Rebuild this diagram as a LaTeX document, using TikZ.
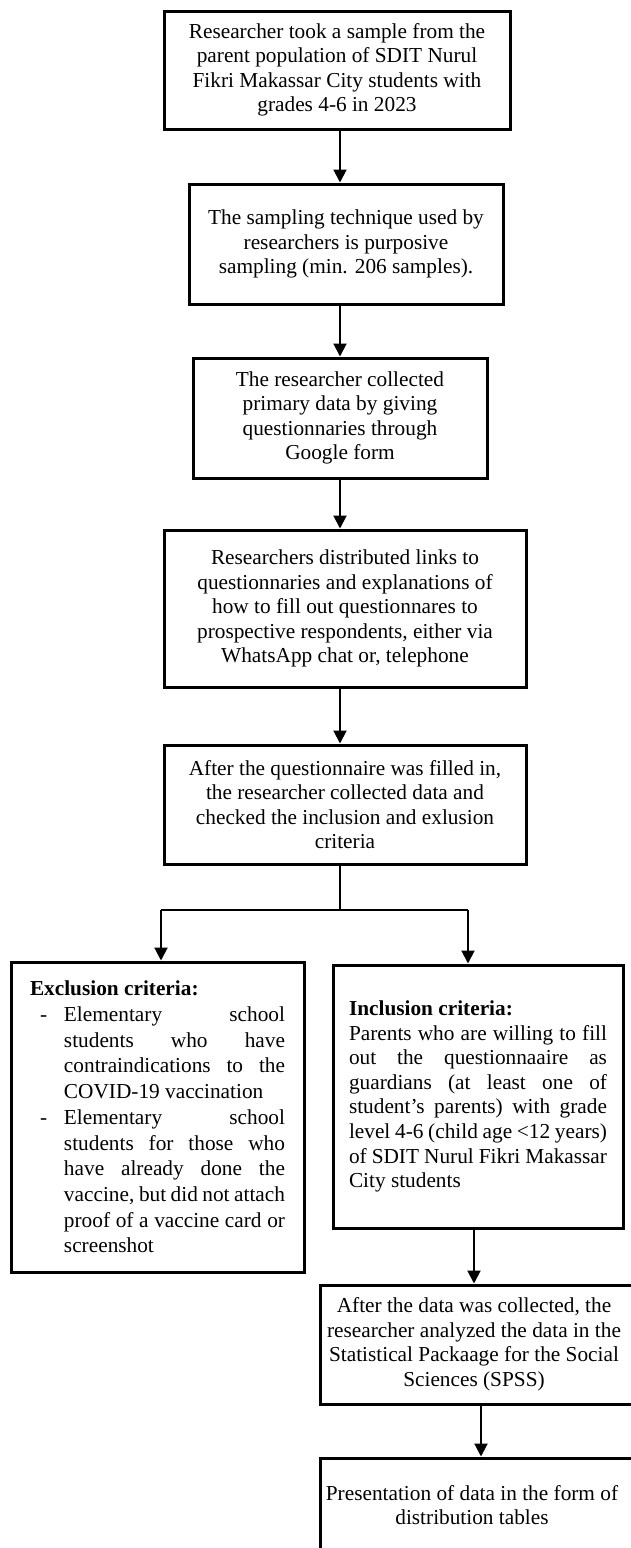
\documentclass[tikz,border=0pt]{standalone}
\usepackage{fontspec}
\setmainfont{Liberation Serif}
\usetikzlibrary{arrows.meta}
\begin{document}
\begin{tikzpicture}[x=1pt,y=-1pt,
  font=\fontsize{21.3}{24.5}\selectfont,
  box/.style={draw, line width=3pt, rectangle, align=center, inner sep=0pt},
  conn/.style={line width=2pt},
  arr/.style={line width=2pt, -{Triangle[width=13pt,length=13pt]}},
]
\clip (0,0) rectangle (631,1548);
\fill[white] (0,0) rectangle (631,1548);

\node[box, minimum width=346pt, minimum height=118pt] (b1) at (337,70)
  {Researcher took a sample from the\\parent population of SDIT Nurul\\Fikri Makassar City students with\\grades 4-6 in 2023};
\node[box, minimum width=314pt, minimum height=120pt] (b2) at (346,244)
  {The sampling technique used by\\researchers is purposive\\sampling (min. 206 samples).};
\node[box, minimum width=294pt, minimum height=120pt] (b3) at (340,418)
  {The researcher collected\\primary data by giving\\questionnaries through\\Google form};
\node[box, minimum width=362pt, minimum height=157pt] (b4) at (345,608.5)
  {Researchers distributed links to\\questionnaries and explanations of\\how to fill out questionnares to\\prospective respondents, either via\\WhatsApp chat or, telephone};
\node[box, minimum width=362pt, minimum height=119pt] (b5) at (345,804.5)
  {After the questionnaire was filled in,\\the researcher collected data and\\checked the inclusion and exlusion\\criteria};

\node[box, minimum width=293pt, minimum height=310pt] (excl) at (157.5,1117)
  {\parbox{255pt}{\fontsize{21.3}{25.7}\selectfont
   \textbf{Exclusion criteria:}\par
   \hangindent=34pt\hangafter=1
   \hspace*{10pt}\makebox[24pt][l]{-}Elementary school\linebreak
   students who have\linebreak
   contraindications to the\linebreak
   COVID-19 vaccination\par
   \hangindent=34pt\hangafter=1
   \hspace*{10pt}\makebox[24pt][l]{-}Elementary school\linebreak
   students for those who\linebreak
   have already done the\linebreak
   vaccine, but did not attach\linebreak
   proof of a vaccine card or\linebreak
   screenshot}};

\node[box, minimum width=290pt, minimum height=263pt] (incl) at (478,1096.5)
  {\parbox{258pt}{\fontsize{21.3}{24.6}\selectfont
   \textbf{Inclusion criteria:}\par
   Parents who are willing to fill\linebreak
   out the questionnaaire as\linebreak
   guardians (at least one of\linebreak
   student’s parents) with grade\linebreak
   level 4-6 (child age <12 years)\linebreak
   of SDIT Nurul Fikri Makassar\linebreak
   City students}};

\node[box, minimum width=340pt, minimum height=119pt] (spss) at (490,1344.5)
  {\begin{tabular}{@{}c@{}}After the data was collected, the\\researcher analyzed the data in the\\Statistical Packaage for the Social\\Sciences (SPSS)\end{tabular}\hspace*{32pt}};

\node[box, minimum width=340pt, minimum height=99pt] (last) at (490,1507.5)
  {\begin{tabular}{@{}c@{}}Presentation of data in the form of\\distribution tables\end{tabular}\hspace*{36pt}};

\draw[arr] (b1.south -| 340,0) -- (b2.north -| 340,0);
\draw[arr] (b2.south -| b3.north) -- (b3.north);
\draw[arr] (b3.south) -- (b3.south |- b4.north);
\draw[arr] (b4.south -| b3.south) -- (b3.south |- b5.north);

\coordinate (sl) at (161,910);
\coordinate (sr) at (468,910);
\draw[conn] (b5.south -| b3.south) -- (b3.south |- sl);
\draw[conn] (sl) -- (sr);
\draw[arr] (sl) -- (sl |- excl.north);
\draw[arr] (sr) -- (sr |- incl.north);

\draw[arr] (incl.south -| 474,0) -- (spss.north -| 474,0);
\draw[arr] (spss.south -| 481,0) -- (last.north -| 481,0);
\end{tikzpicture}
\end{document}
